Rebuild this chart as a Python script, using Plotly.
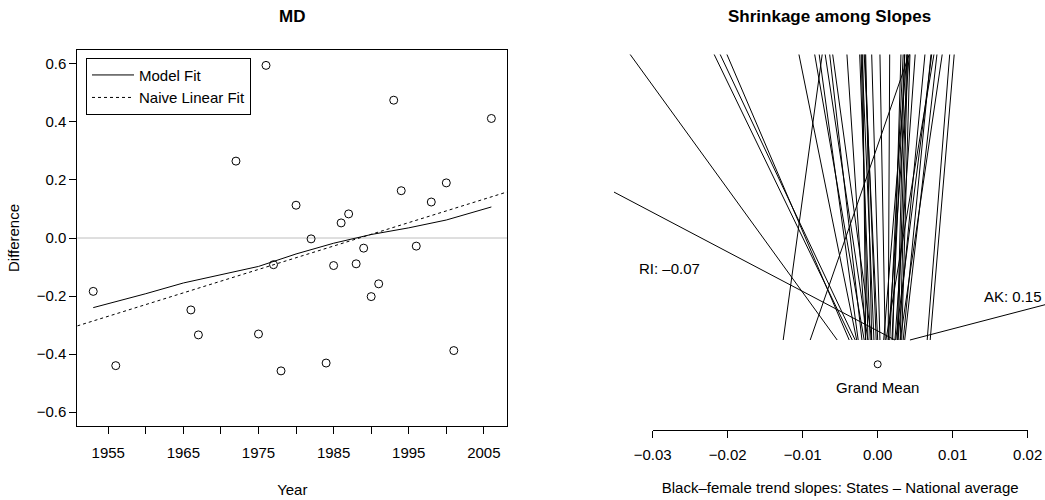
import plotly.graph_objects as go

# ---------------- data: left panel (MD) ----------------
years = [1953, 1956, 1966, 1967, 1972, 1975, 1976, 1977, 1978, 1980, 1982, 1984, 1985,
         1986, 1987, 1988, 1989, 1990, 1991, 1993, 1994, 1996, 1998, 2000, 2001, 2006]
diffs = [-0.184, -0.440, -0.248, -0.334, 0.265, -0.331, 0.595, -0.092, -0.458, 0.113,
         -0.003, -0.431, -0.095, 0.052, 0.083, -0.089, -0.035, -0.202, -0.158, 0.475,
         0.163, -0.028, 0.124, 0.190, -0.388, 0.412]

fit_years = [1953, 1956, 1960, 1965, 1970, 1975, 1980, 1985, 1990, 1995, 2000, 2006]
model_fit = [-0.240, -0.220, -0.192, -0.155, -0.127, -0.098, -0.055, -0.018, 0.012, 0.035, 0.062, 0.107]

naive_intercept_1980 = -0.068   # value of the naive linear fit at 1980
naive_slope = 0.00807           # per year

year_ticks = [1955, 1960, 1965, 1970, 1975, 1980, 1985, 1990, 1995, 2000, 2005]
year_labels = ["1955", "", "1965", "", "1975", "", "1985", "", "1995", "", "2005"]
diff_ticks = [-0.6, -0.4, -0.2, 0.0, 0.2, 0.4, 0.6]
ylim_left = (-0.6, 0.6)

# ---------------- data: right panel (shrinkage) ----------------
states = ["RI", "AK"] + [f"S{i}" for i in range(1, 42)]
raw_slopes = [-0.0700, 0.1500,
              -0.0330, -0.0218, -0.0210, -0.0201, -0.0105, -0.0084, -0.0078, -0.0074,
              -0.0070, -0.0064, -0.0060, -0.0041, -0.0024, -0.0021, -0.0020, -0.0018,
              -0.0016, -0.0008, 0.0003, 0.0016, 0.0031, 0.0034, 0.0036, 0.0039,
              0.0040, 0.0042, 0.0043, 0.0050, 0.0063, 0.0071, 0.0075, 0.0079,
              0.0086, 0.0096, 0.0102, -0.0022, -0.0017, 0.0036, 0.0039, 0.0042, 0.0072]
shrunk_slopes = [0.0023, 0.0043,
                 -0.0054, -0.0034, -0.0030, -0.0038, -0.0028, -0.0018, -0.0026, -0.0126,
                 -0.0013, -0.0021, -0.0008, -0.0016, -0.0010, -0.0005, -0.0016, 0.0000,
                 -0.0008, 0.0003, 0.0010, 0.0014, 0.0020, 0.0016, 0.0026, 0.0008,
                 0.0030, -0.0090, 0.0032, 0.0023, 0.0027, 0.0034, 0.0011, 0.0036,
                 0.0030, 0.0066, 0.0070, -0.0013, -0.0002, 0.0019, 0.0027, 0.0014, 0.0024]
grand_mean = 0.0
labelled_states = ["RI", "AK"]
slope_ticks = [-0.03, -0.02, -0.01, 0.00, 0.01, 0.02]

# ---------------- layout helpers ----------------
W, H = 1045, 500
def px_x(p):
    return p / W
def px_y(p):
    return (H - p) / H

FONT = "Liberation Sans, Arial, Helvetica, sans-serif"
FS = 15

def r_range(lo, hi):
    d = (hi - lo) * 0.04
    return [lo - d, hi + d]

xr_left = r_range(min(years), max(years))
yr_left = r_range(*ylim_left)

fig = go.Figure()

# zero reference line
fig.add_shape(type="line", xref="x domain", yref="y", x0=0, x1=1, y0=0, y1=0,
              line=dict(color="#bebebe", width=1), layer="below")

fig.add_trace(go.Scatter(x=fit_years, y=model_fit, mode="lines",
                         line=dict(color="black", width=1), name="Model Fit",
                         xaxis="x", yaxis="y", hoverinfo="skip"))
# naive linear fit (abline across the whole plot)
nx = xr_left
ny = [naive_intercept_1980 + naive_slope * (v - 1980) for v in nx]
fig.add_trace(go.Scatter(x=nx, y=ny, mode="lines", name="Naive Linear Fit",
                         line=dict(color="black", width=1, dash="3px,3px"),
                         xaxis="x", yaxis="y", hoverinfo="skip"))
fig.add_trace(go.Scatter(x=years, y=diffs, mode="markers", showlegend=False,
                         marker=dict(symbol="circle-open", size=8, color="black",
                                     line=dict(width=1, color="black")),
                         xaxis="x", yaxis="y"))

# shrinkage lines
lx, ly = [], []
for r, s in zip(raw_slopes, shrunk_slopes):
    lx += [r, s, None]
    ly += [1, 0, None]
fig.add_trace(go.Scatter(x=lx, y=ly, mode="lines", showlegend=False,
                         line=dict(color="black", width=1),
                         xaxis="x2", yaxis="y2", hoverinfo="skip"))
fig.add_trace(go.Scatter(x=[grand_mean], y=[-0.085], mode="markers", showlegend=False,
                         marker=dict(symbol="circle-open", size=7, color="black",
                                     line=dict(width=1, color="black")),
                         xaxis="x3", yaxis="y2"))

# right panel axis ranges (pixel-calibrated)
x2_lo = -0.03 - (652.7 - 614) / 7500
x2_hi = 0.02 + (1045 - 1027.7) / 7500
y2_range = [-(430 - 340) / 285.5, 1 + 4.5 / 285.5]

axis_font = dict(family=FONT, size=FS, color="black")

fig.update_layout(
    width=W, height=H,
    margin=dict(l=0, r=0, t=0, b=0, autoexpand=False),
    paper_bgcolor="white", plot_bgcolor="rgba(0,0,0,0)",
    font=axis_font,
    showlegend=True,
    legend=dict(x=px_x(86), y=px_y(57.7), xanchor="left", yanchor="top",
                bgcolor="white", bordercolor="black", borderwidth=1,
                font=dict(family=FONT, size=FS, color="black"),
                tracegroupgap=0, itemwidth=42),
    xaxis=dict(domain=[px_x(77.3), px_x(507.3)], range=xr_left, automargin=False,
               tickmode="array", tickvals=year_ticks, ticktext=year_labels,
               ticks="outside", ticklen=7, tickcolor="black", tickwidth=1,
               showline=True, linecolor="black", linewidth=1, mirror=True,
               showgrid=False, zeroline=False, ticklabelstandoff=6,
               title=dict(text="Year", standoff=24, font=axis_font),
               anchor="y"),
    yaxis=dict(domain=[px_y(426), px_y(50)], range=yr_left, automargin=False,
               tickmode="array", tickvals=diff_ticks,
               ticktext=[f"{v:.1f}".replace("-", "\u2212") for v in diff_ticks],
               ticks="outside", ticklen=7, tickcolor="black", tickwidth=1,
               showline=True, linecolor="black", linewidth=1, mirror=True,
               showgrid=False, zeroline=False,
               title=dict(text="Difference", standoff=13, font=axis_font),
               anchor="x"),
    xaxis2=dict(domain=[px_x(614), 1.0], range=[x2_lo, x2_hi], automargin=False,
                visible=False, anchor="y2"),
    yaxis2=dict(domain=[px_y(430), px_y(50)], range=y2_range, automargin=False,
                visible=False, anchor="x2"),
    xaxis3=dict(domain=[px_x(652.7), px_x(1027.7)], range=[-0.03, 0.02],
                anchor="y2", automargin=False, tickmode="array", tickvals=slope_ticks,
                ticktext=[f"{v:.2f}".replace("-", "\u2212") for v in slope_ticks],
                ticks="outside", ticklen=7, tickcolor="black", tickwidth=1,
                showline=True, linecolor="black", linewidth=1,
                showgrid=False, zeroline=False, ticklabelstandoff=4,
                title=dict(text="Black\u2013female trend slopes: States \u2013 National average",
                           standoff=20, font=axis_font)),
)

annotations = [
    dict(text="<b>MD</b>", x=px_x(292.3), y=px_y(16), xref="paper", yref="paper",
         xanchor="center", yanchor="middle",
         showarrow=False, font=dict(family=FONT, size=17, color="black")),
    dict(text="<b>Shrinkage among Slopes</b>", x=px_x(829), y=px_y(16), xref="paper", yref="paper",
         xanchor="center", yanchor="middle",
         showarrow=False, font=dict(family=FONT, size=17, color="black")),
    dict(text="Grand Mean", x=grand_mean, y=-0.168, xref="x3", yref="y2",
         xanchor="center", yanchor="middle", showarrow=False, font=axis_font),
]
label_pos = {"RI": (-0.0277, 0.252), "AK": (0.0180, 0.151)}
for st in labelled_states:
    i = states.index(st)
    txt = f"{st}: {raw_slopes[i]:.2f}".replace("-", "\u2013")
    ax_, ay_ = label_pos[st]
    annotations.append(dict(text=txt, x=ax_, y=ay_, xref="x3", yref="y2",
                            xanchor="center", yanchor="middle",
                            showarrow=False, font=axis_font))
fig.update_layout(annotations=annotations)

fig.write_html("out.html", config={"displayModeBar": False},
               post_script="document.body.style.margin='0px';document.body.style.overflow='hidden';")
